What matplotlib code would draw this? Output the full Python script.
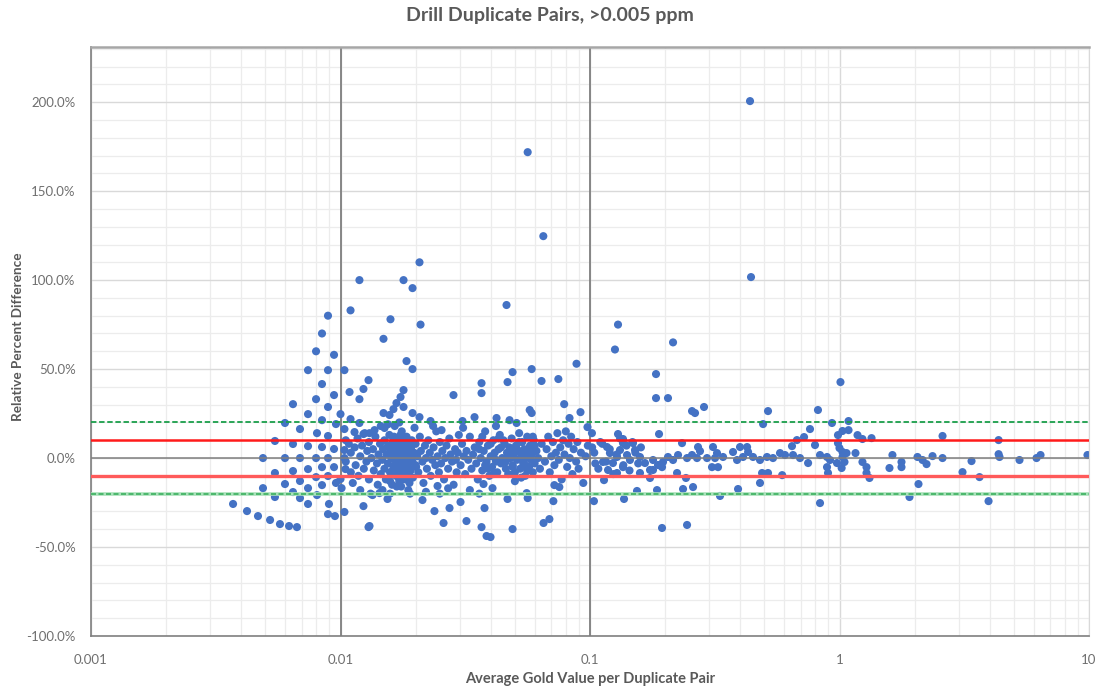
import numpy as np
import matplotlib
matplotlib.use("Agg")
import matplotlib.pyplot as plt
from matplotlib.ticker import FixedLocator, FuncFormatter, NullFormatter, LogLocator

plt.rcParams['font.family'] = ['Lato', 'DejaVu Sans']

# ---------------- data: average Au (ppm) vs relative percent difference (%) ----------------
# pairs below 0.01 ppm
low_x = [0.00741, 0.00891, 0.00843, 0.00942, 0.00798, 0.00645, 0.00891, 0.00741, 0.00843, 0.00599,
         0.00959, 0.00688, 0.00805, 0.00891, 0.00546, 0.00645, 0.00741, 0.00843, 0.00942, 0.00489,
         0.00599, 0.00688, 0.00798, 0.00891, 0.00546, 0.00645, 0.00741, 0.00843, 0.00942, 0.00489,
         0.00599, 0.00688, 0.00798, 0.00891, 0.00546, 0.00645, 0.00741, 0.00843, 0.00959, 0.00688,
         0.00805, 0.00899, 0.00741, 0.00891, 0.0095,
         0.00371, 0.00422, 0.00467, 0.00522, 0.00572, 0.00622, 0.00669,
         0.00891, 0.00843, 0.00798, 0.00942]
low_rpd = [49.4, 49.4, 41.6, 35.4, 33.1, 30.3, 28.7, 24.7, 21.3, 19.7,
           19.1, 16.3, 14.0, 12.4, 9.6, 7.9, 6.7, 6.2, 5.1, 0,
           0, 0, 0, 0, -8.4, -7.3, -6.2, -5.1, -5.1, -16.9,
           -14.6, -12.9, -10.7, -10.1, -21.9, -19.1, -16.9, -15.2, -14.0, -22.5,
           -20.8, -25.8, -25.8, -31.5, -32.6,
           -25.8, -29.8, -32.6, -34.8, -37.1, -38.2, -38.8,
           80, 70, 60, 58]

# scattered pairs 0.01 - 0.1 ppm
mid_x = [0.01097, 0.01191, 0.01586, 0.01487, 0.01789, 0.01944, 0.02073, 0.02093, 0.01839, 0.01944,
         0.01037, 0.01295, 0.01087, 0.01236, 0.01191, 0.0100, 0.01097, 0.01191, 0.01037, 0.01138,
         0.01236, 0.01037, 0.01037, 0.01047, 0.0100, 0.0101, 0.01037, 0.01236, 0.01295, 0.01543,
         0.01433, 0.01473, 0.01344, 0.01307,
         0.01789, 0.0174, 0.01676, 0.0163, 0.01572, 0.01487, 0.01789, 0.01944, 0.02073, 0.02295,
         0.02541, 0.01501, 0.01369, 0.01307,
         0.04628, 0.02837, 0.03675, 0.03675, 0.04672, 0.04894, 0.05838, 0.06394, 0.07467, 0.0883,
         0.0788, 0.0916, 0.08278, 0.05731, 0.05838, 0.04221, 0.04759, 0.05079, 0.0977, 0.03083,
         0.03445, 0.05626, 0.065,
         0.02131, 0.0238, 0.02735, 0.02588, 0.03027, 0.03198, 0.03675, 0.03849, 0.03993, 0.03778,
         0.04672, 0.04894, 0.06513, 0.06875, 0.07132, 0.05574, 0.05626, 0.04067, 0.03743, 0.07198,
         0.07536, 0.02449]
mid_rpd = [83, 100, 78, 67, 100, 95.5, 110, 75, 54.5, 50,
           49.4, 43.8, 37.1, 38.8, 33.1, 24.7, 21.9, 19.7, 16.3, 14.6,
           13.5, 4.5, 0, -6.2, -11.8, -16.9, -30.3, -27, -38.8, -23,
           -19.7, -18, -20.8, -38.2,
           38.2, 34.3, 30.9, 27.5, 24.2, 25.3, 28.7, 25.3, 23, 20.8,
           15.7, 16.9, 15.7, 14,
           86, 35.4, 42.1, 36.5, 42.7, 48.3, 50, 43.3, 44.4, 53,
           30.3, 25.8, 22.5, 27, 25.3, 22.5, 21.3, 19.7, 17.4, 20.8,
           23, 171.9, 124.7,
           -23.6, -29.8, -28.1, -36.5, -24.7, -35.4, -38.8, -43.8, -44.4, -28.1,
           -23, -39.9, -36.5, -34.3, -24.2, -19.7, -22.5, -16.9, -14.6, -15.2,
           -16.3, -15.7]

# dense core of pairs 0.01 - 0.1 ppm
core_x = [0.0105, 0.0105, 0.0108, 0.011, 0.011, 0.0112, 0.0114, 0.0115, 0.0117, 0.0118,
          0.012, 0.012, 0.0122, 0.0124, 0.0125, 0.0127, 0.0128, 0.013, 0.013, 0.0132,
          0.0133, 0.0135, 0.0136, 0.0138, 0.014, 0.0141, 0.0142, 0.0144, 0.0145, 0.0145,
          0.0147, 0.0148, 0.015, 0.015, 0.0152, 0.0153, 0.0155, 0.0155, 0.0157, 0.0158,
          0.016, 0.016, 0.0161, 0.0162, 0.0163, 0.0164, 0.0165, 0.0166, 0.0167, 0.0168,
          0.0169, 0.017, 0.017, 0.0171, 0.0172, 0.0173, 0.0174, 0.0175, 0.0176, 0.0177,
          0.0178, 0.0179, 0.018, 0.0181, 0.0182, 0.0183, 0.0184, 0.0185, 0.0186, 0.0187,
          0.0188, 0.019, 0.019, 0.0192, 0.0194, 0.0195, 0.0197, 0.0198, 0.02, 0.02,
          0.0165, 0.0172, 0.0158, 0.0175, 0.019, 0.0155,
          0.0162, 0.0166, 0.0168, 0.0171, 0.0173, 0.0176, 0.0178, 0.018, 0.0183, 0.0185,
          0.0163, 0.0169, 0.0174, 0.0179, 0.0182, 0.0159, 0.0177, 0.0187, 0.0164, 0.0172,
          0.0203, 0.0205, 0.0208, 0.021, 0.0213, 0.0215, 0.0218, 0.022, 0.0222, 0.0225,
          0.0228, 0.023, 0.0233, 0.0236, 0.024, 0.0242, 0.0245, 0.0248, 0.025, 0.0253,
          0.0256, 0.026, 0.0263, 0.0266, 0.027, 0.0273, 0.0276, 0.028, 0.0284, 0.0288,
          0.0292, 0.0295, 0.0298, 0.022, 0.025, 0.0235, 0.027, 0.029,
          0.0303, 0.0307, 0.0312, 0.0316, 0.032, 0.0325, 0.033, 0.0335, 0.034, 0.0345,
          0.035, 0.0355, 0.036, 0.0365, 0.037, 0.0375, 0.038, 0.0385, 0.039, 0.0395,
          0.04, 0.0405, 0.041, 0.0415, 0.042, 0.0425, 0.043, 0.0435, 0.044, 0.0445,
          0.033, 0.036, 0.042, 0.031,
          0.0455, 0.046, 0.0465, 0.047, 0.0475, 0.048, 0.0485, 0.049, 0.0495, 0.05,
          0.0505, 0.051, 0.0515, 0.052, 0.0525, 0.053, 0.0535, 0.054, 0.0545, 0.055,
          0.0555, 0.056, 0.0565, 0.057, 0.0575, 0.058, 0.0585, 0.059, 0.0595, 0.06,
          0.061, 0.062, 0.063, 0.064,
          0.066, 0.067, 0.068, 0.069, 0.07, 0.071, 0.072, 0.073, 0.074, 0.075,
          0.076, 0.077, 0.078, 0.079, 0.08, 0.081, 0.082, 0.083, 0.084, 0.085,
          0.086, 0.088, 0.089, 0.09, 0.092, 0.094, 0.096, 0.098]
core_rpd = [10, -2, 8, -8, 3, -14, 6, -4, 11, -10,
            1, -18, 7, -6, 14, -2, 4, -12, 9, -20,
            0, 5, -7, 12, -3, -15, 2, 8, -9, 18,
            -1, 5, -6, 10, -12, 2, -3, 7, 13, -8,
            0, 4, -15, 9, -5, 2, -1, 6, -10, 11,
            3, -3, 0, 8, -7, 1, 5, -2, 15, -12,
            3, -5, 0, 7, -9, 2, 12, -3, 4, -18,
            9, -6, 1, 6, -2, -11, 3, 17, -4, 8,
            18, 20, -20, -16, -20, 19,
            -7, -4, 2, -1, 4, -9, -1, 3, -6, 1,
            7, -6, -4, 10, 5, 3, 6, -8, 12, -13,
            1, -8, 12, 4, -2, -14, 7, 0, -6, 10,
            3, -10, -1, 6, -4, 15, 1, -8, 9, -3,
            4, -12, 0, 7, -6, 11, 2, -2, -15, 5,
            -8, 3, 13, -19, -20, 18, -17, -1,
            -4, 8, 1, -9, 4, -1, 12, -6, 2, 6,
            -3, -12, 9, 0, -7, 4, 15, -2, 7, -10,
            1, -5, 10, 3, -1, -8, 5, 13, -3, 0,
            -18, -20, 18, 17,
            8, -2, 3, -9, 6, 0, 11, -4, 2, -13,
            7, -1, 4, 14, -6, 1, 9, -3, 5, -10,
            0, 12, 3, -5, 7, -1, 2, -8, 10, -3,
            4, 0, -6, 8,
            -2, 5, 12, -8, 1, 9, -4, 3, 14, -1,
            6, -12, 10, 2, 15, -5, 8, 0, 12, -9,
            5, -2, 9, -6, 3, -14, 1, 7]

# further pairs filling the densest clusters
dense_x = [0.0156, 0.0161, 0.0167, 0.0171, 0.0176, 0.0181, 0.0186, 0.0191, 0.0196, 0.0201,
           0.0158, 0.0164, 0.0169, 0.0174, 0.0178, 0.0184, 0.0189, 0.0193, 0.0168, 0.0182,
           0.036, 0.038, 0.04, 0.042, 0.044, 0.046, 0.048, 0.05, 0.052, 0.054,
           0.056, 0.058, 0.037, 0.041, 0.045, 0.049, 0.053, 0.057, 0.06, 0.043,
           0.047, 0.051, 0.055, 0.039, 0.059,
           0.104, 0.108, 0.112, 0.116, 0.12, 0.124, 0.128, 0.132, 0.136, 0.14,
           0.144, 0.148, 0.152, 0.156, 0.16]
dense_rpd = [6, -9, 4, -11, 8, -4, 5, -7, 2, -5,
             -13, 11, -2, 13, -10, 8, -14, 10, -16, -12,
             5, -4, 8, -2, 6, -6, 4, -8, 9, 3,
             -7, 6, 12, -9, 10, -5, -11, 1, 7, 11,
             2, 5, -4, -6, 12,
             3, -6, 8, -2, 5, -9, 2, 11, -4, 7,
             -7, 9, 3, -3, 6]

# pairs 0.1 - 1 ppm
hi_x = [0.1295, 0.1259, 0.2152, 0.1839, 0.1839, 0.2054, 0.2564, 0.2636, 0.2864, 0.1891,
        0.517, 0.494, 0.8198, 0.7617, 0.933,
        0.1037, 0.1369, 0.1543, 0.1856, 0.1944, 0.2449, 0.236, 0.2588, 0.332, 0.3921,
        0.4802, 0.8354, 0.1138, 0.174, 0.2233, 0.2425,
        0.1295, 0.1356, 0.1356, 0.1487, 0.2338, 0.271, 0.276, 0.3112, 0.117, 0.1202,
        0.1127, 0.1236, 0.1283, 0.1319, 0.1407, 0.1446, 0.1356, 0.1515, 0.1586, 0.1661,
        0.174, 0.1789, 0.1873, 0.1962, 0.2054, 0.2152, 0.2254, 0.2449, 0.2564, 0.2685,
        0.2945, 0.317, 0.3083, 0.3229, 0.1181, 0.1283, 0.1586, 0.1789, 0.1944,
        0.645, 0.6751, 0.721, 0.6048, 0.6513, 0.6946, 0.7484, 0.5775, 0.5414, 0.5122,
        0.4802, 0.4503, 0.4302, 0.4105, 0.3885, 0.3743, 0.3414, 0.3259, 0.3993, 0.4262,
        0.4894, 0.517, 0.5892, 0.7977, 0.8354, 0.8912, 0.8994, 0.8912, 0.9161, 0.977,
        0.986, 0.986, 0.1018, 0.102, 0.105, 0.11, 0.4379, 0.4419]
hi_rpd = [75, 61, 65, 47.2, 33.7, 33.7, 26.4, 25.3, 28.7, 13.5,
          26.4, 19.1, 27, 16.3, 19.7,
          -24.2, -23, -18.5, -18, -39.3, -37.6, -17.4, -16.3, -21.3, -17.4,
          -14, -25.3, -12.4, -11.2, -8.4, -11.2,
          13.5, 10.7, 8.4, 8.4, 8.4, 6.2, 3.9, 6.2, 6.2, 2.8,
          -2.2, -2.8, 0.6, 4.5, 1.7, -1.1, -5.1, 4.5, 0.6, -2.8,
          -6.7, -1.1, -3.9, -2.2, 0.6, -1.1, 1.7, 0, 1.7, 0,
          0, 0, -5.1, 2.8, -6.7, -8.4, -8.4, -6.7, -5.1,
          6.7, 10.1, 11.8, 1.7, 1.7, 0, -2.8, 2.8, 0, 0.6,
          -1.1, 0.6, 3.4, 0.6, -1.1, 3.4, 0.6, -5.1, 6.2, 6.2,
          -8.4, -8.4, -9.6, 7.3, 1.7, 0.6, -8.4, -5.1, -1.1, -2.8,
          8.4, 12.9, 14, 6, -3, 9, 200.6, 101.7]

# pairs above 1 ppm
top_x = [1.009, 1.087, 1.028, 1.087, 1.181, 1.236, 1.344, 1.0, 1.028, 1.067,
         1.159, 1.028, 1.047, 1.02, 1.236, 1.283, 1.283, 1.319, 1.63, 1.586,
         1.772, 1.772, 2.054, 2.152, 2.233, 2.36, 2.588, 2.588, 2.073, 1.908,
         3.112, 3.382, 3.641, 4.342, 4.342, 4.379, 5.266, 6.162, 6.394, 3.957, 9.86]
top_rpd = [42.7, 20.8, 15.2, 15.7, 12.9, 10.7, 11.2, 5.6, 3.4, 2.8,
           2.8, 0.6, -2.2, -5.6, -2.2, -5.1, -8.4, -11.2, 1.7, -5.6,
           -2.2, -5.1, 0.6, -1.1, -3.4, 1.1, 12.4, 0, -14.6, -21.9,
           -7.9, -1.7, -10.7, 10.1, 2.2, 0.6, -1.1, 0, 1.7, -24.2, 1.7]

# control limits (%)
limit_inner = 10
limit_outer = 20

x_ticks = [0.001, 0.01, 0.1, 1, 10]
x_tick_labels = ['0.001', '0.01', '0.1', '1', '10']
y_ticks = [-100, -50, 0, 50, 100, 150, 200]

# ---------------- figure ----------------
W, H = 1099, 691
fig = plt.figure(figsize=(W / 100, H / 100), dpi=100)
fig.patch.set_facecolor('white')
ax = fig.add_axes([91 / W, 1 - 636 / H, (1089 - 91) / W, (636 - 47) / H])

ax.set_xscale('log')
ax.set_xlim(0.001, 10)
ax.set_ylim(-100, 231)

ax.xaxis.set_major_locator(FixedLocator(x_ticks))
ax.xaxis.set_minor_locator(LogLocator(base=10, subs=np.arange(2, 10)))
ax.xaxis.set_minor_formatter(NullFormatter())
ax.set_xticklabels(x_tick_labels)
ax.yaxis.set_major_locator(FixedLocator(y_ticks))
ax.yaxis.set_minor_locator(FixedLocator(np.arange(-100, 231, 10)))
ax.yaxis.set_major_formatter(FuncFormatter(lambda v, p: f"{v:.1f}%"))

ax.grid(which='major', color='#D9D9D9', lw=1.0, zorder=0)
ax.grid(which='minor', color='#ECECEC', lw=0.9, zorder=0)
ax.set_axisbelow(True)

ax.tick_params(which='both', length=0)
ax.tick_params(axis='y', pad=11, labelsize=9.5, labelcolor='#6F6F6F')
ax.tick_params(axis='x', pad=13, labelsize=9.5, labelcolor='#6F6F6F')

for side in ['left', 'bottom']:
    ax.spines[side].set_color('#7F7F7F')
    ax.spines[side].set_linewidth(1.2)
ax.spines['top'].set_color('#A6A6A6')
ax.spines['top'].set_linewidth(1.8)
ax.spines['right'].set_color('#D9D9D9')

# decade reference lines
for xv in [0.01, 0.1]:
    ax.axvline(xv, color='#7F7F7F', lw=1.3, zorder=1)

# points
all_x = np.concatenate([low_x, mid_x, core_x, dense_x, hi_x, top_x])
all_y = np.concatenate([low_rpd, mid_rpd, core_rpd, dense_rpd, hi_rpd, top_rpd])
ax.scatter(all_x, all_y, s=34, color='#4472C4', edgecolors='none', zorder=2)

# control lines
ax.axhline(0, color='#7F7F7F', lw=1.1, zorder=3)
ax.axhline(limit_inner, color='#FF1A1A', lw=1.8, zorder=3)
ax.axhline(-limit_inner, color='#FF5A5A', lw=2.4, zorder=3)
ax.axhline(limit_outer, color='#1A9E4A', lw=1.3, ls=(0, (3, 1.5)), zorder=3)
ax.axhline(-limit_outer, color='#A8E0B8', lw=2.6, zorder=3)
ax.axhline(-limit_outer, color='#3CB060', lw=1.2, ls=(0, (3, 1.5)), zorder=3)

# texts
fig.text(0.5, 1 - 16 / H, 'Drill Duplicate Pairs, >0.005 ppm', ha='center', va='center',
         fontsize=14, fontweight='bold', color='#595959')
fig.text((91 + 1089) / 2 / W, 1 - 679 / H, 'Average Gold Value per Duplicate Pair',
         ha='center', va='center', fontsize=10.5, fontweight='bold', color='#595959')
fig.text(18 / W, 1 - 337 / H, 'Relative Percent Difference', ha='center', va='center',
         rotation=90, fontsize=9.8, fontweight='bold', color='#595959')

fig.savefig('out.png', dpi=100, facecolor='white')
